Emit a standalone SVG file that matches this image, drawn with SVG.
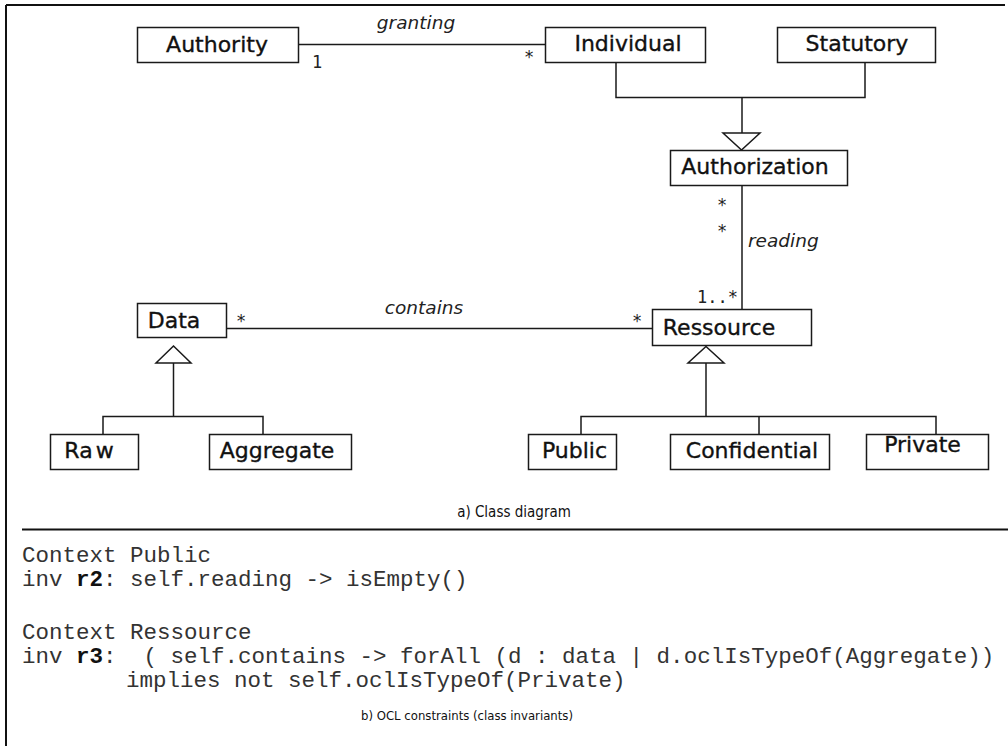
<svg xmlns="http://www.w3.org/2000/svg" width="1008" height="746" viewBox="0 0 1008 746">
  <style>
    .box { fill: #ffffff; stroke: #1a1a1a; stroke-width: 1.5; }
    .cls { font-family: "DejaVu Sans", "Liberation Sans", sans-serif; font-size: 22px; fill: #111; stroke: #111; stroke-width: 0.35; }
    .role { font-family: "DejaVu Sans", "Liberation Sans", sans-serif; font-size: 18.5px; font-style: italic; fill: #222; }
    .mult { font-family: "DejaVu Sans Mono", "Liberation Mono", monospace; font-size: 17px; fill: #222; }
    .caption { font-family: "DejaVu Sans Condensed", "DejaVu Sans", sans-serif; font-size: 13px; fill: #111; }
    .caption-a { font-size: 15px; }
    .ocl { font-family: "Liberation Mono", "Courier New", monospace; font-size: 22.5px; fill: #333; white-space: pre; }
    .ocl .kw { font-weight: bold; fill: #111; }
    .edge { fill: none; stroke: #1a1a1a; stroke-width: 1.5; }
    .gen { fill: #ffffff; stroke: #1a1a1a; stroke-width: 1.5; }
    .frame { fill: none; stroke: #111; stroke-width: 2; }
  </style>

  <rect x="0" y="0" width="1008" height="746" fill="#ffffff"/>

  <!-- outer frame and section separator -->
  <g id="frame">
    <line class="frame" x1="6" y1="5" x2="6" y2="746"/>
    <line class="frame" x1="6" y1="5" x2="1005" y2="5" stroke="#333" stroke-width="1.5"/>
    <line class="frame" x1="22" y1="529.5" x2="1008" y2="529.5"/>
  </g>

  <!-- associations and generalizations -->
  <g id="connectors">
    <!-- granting -->
    <line class="edge" x1="299" y1="44.5" x2="545" y2="44.5"/>
    <!-- Individual / Statutory -> Authorization -->
    <polyline class="edge" points="616,62 616,97.5 865,97.5 865,62"/>
    <line class="edge" x1="742" y1="97.5" x2="742" y2="133"/>
    <polygon class="gen" points="723,133 760,133 741.5,150"/>
    <!-- reading -->
    <line class="edge" x1="742" y1="186" x2="742" y2="309"/>
    <!-- contains -->
    <line class="edge" x1="227" y1="328.5" x2="652" y2="328.5"/>
    <!-- Raw / Aggregate -> Data -->
    <polygon class="gen" points="173.5,346 191,363 156,363"/>
    <line class="edge" x1="173.5" y1="363" x2="173.5" y2="416.5"/>
    <polyline class="edge" points="103,434 103,416.5 263,416.5 263,434"/>
    <!-- Public / Confidential / Private -> Ressource -->
    <polygon class="gen" points="706,346.5 724,363 688,363"/>
    <line class="edge" x1="706" y1="363" x2="706" y2="416.5"/>
    <polyline class="edge" points="581,434 581,416.5 936,416.5 936,434"/>
    <line class="edge" x1="759" y1="416.5" x2="759" y2="434"/>

    <!-- association labels -->
    <text class="role" x="416" y="29" text-anchor="middle">granting</text>
    <text class="role" x="748" y="247">reading</text>
    <text class="role" x="424" y="314" text-anchor="middle">contains</text>

    <!-- multiplicities -->
    <text class="mult" x="312" y="68">1</text>
    <text class="mult" x="524" y="63">*</text>
    <text class="mult" x="717" y="211">*</text>
    <text class="mult" x="717" y="237">*</text>
    <text class="mult" x="697" y="303">1..*</text>
    <text class="mult" x="236" y="327">*</text>
    <text class="mult" x="632" y="327">*</text>
  </g>

  <g id="node-authority">
    <rect class="box" x="137.5" y="27.5" width="161" height="35"/>
    <text class="cls" x="217" y="52" text-anchor="middle">Authority</text>
  </g>
  <g id="node-individual">
    <rect class="box" x="545.5" y="27.5" width="160" height="35"/>
    <text class="cls" x="628" y="51" text-anchor="middle">Individual</text>
  </g>
  <g id="node-statutory">
    <rect class="box" x="777.5" y="27.5" width="158" height="35"/>
    <text class="cls" x="857" y="51" text-anchor="middle">Statutory</text>
  </g>
  <g id="node-authorization">
    <rect class="box" x="670.5" y="150.5" width="177" height="35"/>
    <text class="cls" x="755" y="174" text-anchor="middle">Authorization</text>
  </g>
  <g id="node-ressource">
    <rect class="box" x="652.5" y="309.5" width="159" height="36"/>
    <text class="cls" x="719" y="335" text-anchor="middle">Ressource</text>
  </g>
  <g id="node-data">
    <rect class="box" x="137.5" y="303.5" width="89" height="34"/>
    <text class="cls" x="174" y="328" text-anchor="middle">Data</text>
  </g>
  <g id="node-raw">
    <rect class="box" x="50.5" y="434.5" width="88" height="35"/>
    <text class="cls" x="89" y="458" text-anchor="middle">Ra<tspan dx="3">w</tspan></text>
  </g>
  <g id="node-aggregate">
    <rect class="box" x="209.5" y="434.5" width="142" height="35"/>
    <text class="cls" x="277" y="458" text-anchor="middle">Aggregate</text>
  </g>
  <g id="node-public">
    <rect class="box" x="528.5" y="434.5" width="88" height="35"/>
    <text class="cls" x="574.5" y="458" text-anchor="middle">Public</text>
  </g>
  <g id="node-confidential">
    <rect class="box" x="670.5" y="434.5" width="159" height="35"/>
    <text class="cls" x="752" y="458" text-anchor="middle">Confidential</text>
  </g>
  <g id="node-private">
    <rect class="box" x="866.5" y="434.5" width="122" height="35"/>
    <text class="cls" x="922.5" y="452" text-anchor="middle">Private</text>
  </g>

  <text class="caption caption-a" x="514" y="517" text-anchor="middle">a) Class diagram</text>

  <!-- OCL invariants -->
  <g id="ocl">
    <text class="ocl" x="22" y="562">Context Public</text>
    <text class="ocl" x="22" y="586">inv <tspan class="kw">r2</tspan>: self.reading -&gt; isEmpty()</text>
    <text class="ocl" x="22" y="639">Context Ressource</text>
    <text class="ocl" x="22" y="663">inv <tspan class="kw">r3</tspan>:  ( self.contains -&gt; forAll (d : data | d.oclIsTypeOf(Aggregate))</text>
    <text class="ocl" x="126" y="687">implies not self.oclIsTypeOf(Private)</text>
  </g>

  <text class="caption" x="467" y="720" text-anchor="middle">b) OCL constraints (class invariants)</text>
</svg>
